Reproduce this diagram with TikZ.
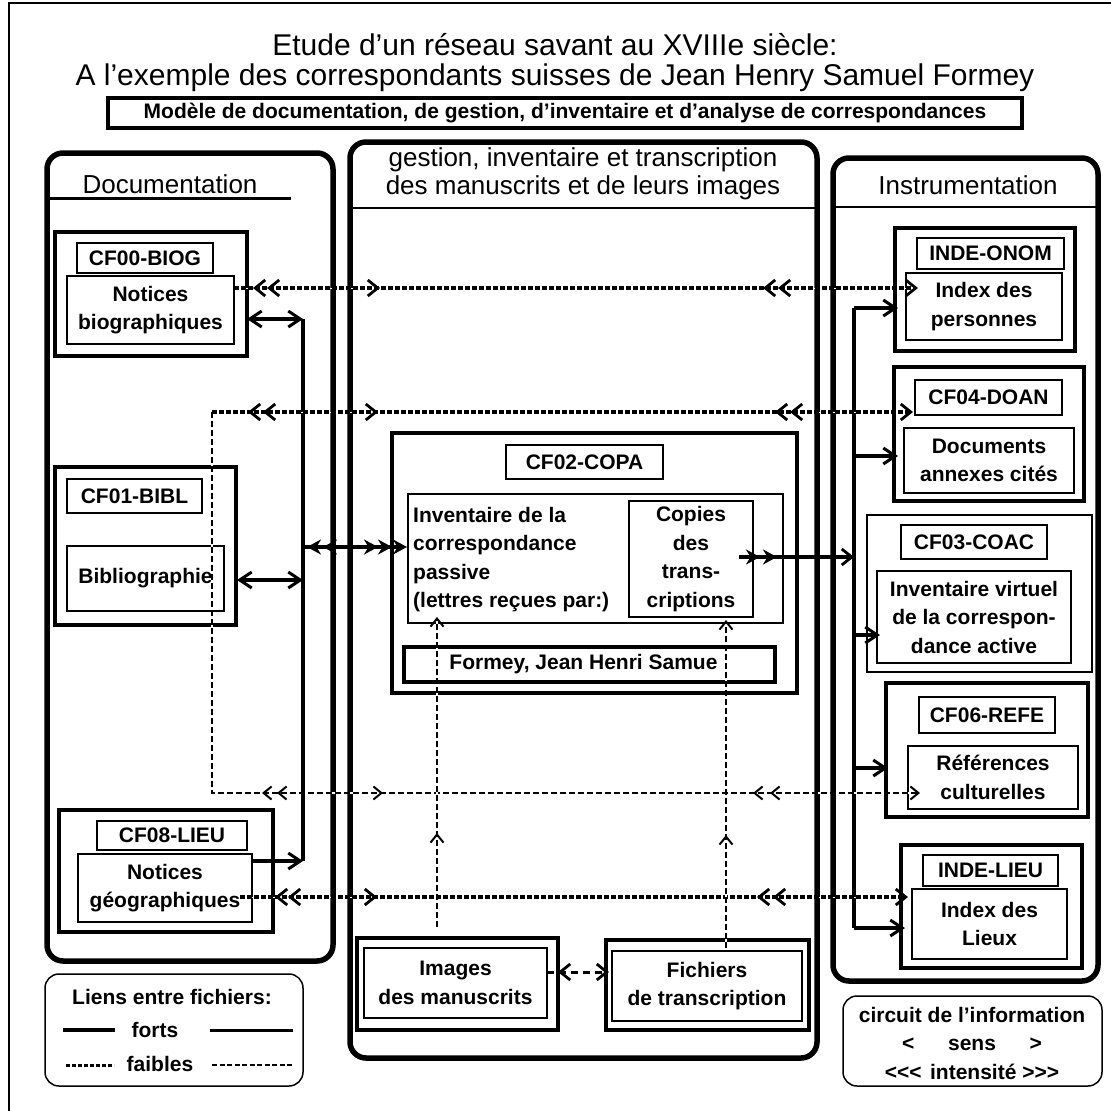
\documentclass[tikz,border=0pt]{standalone}
\usepackage{fontspec}
\setmainfont{Liberation Sans}
\usetikzlibrary{arrows.meta,decorations.markings,calc}
\newcommand\fb{\fontsize{21}{28.5}\selectfont\bfseries}
\newcommand\fh{\fontsize{26}{28}\selectfont}
\newcommand\ft{\fontsize{30}{29.5}\selectfont}
\newcommand\bx[6][]{\node[#1,anchor=north west,inner sep=0pt,outer sep=0pt,minimum width={(#5-#3)*1pt},minimum height={(#6-#4)*1pt},align=center,font=\fb] (#2) at (#3,#4)}
\tikzset{
 panel/.style={draw,line width=5.5pt,rounded corners=16pt},
 obox/.style={draw,line width=3.5pt},
 mbox/.style={draw,line width=2.5pt},
 ibox/.style={draw,line width=1.5pt},
 legendbox/.style={draw,line width=1.5pt,rounded corners=14pt},
 chv/.tip={Straight Barb[length=10pt,width=16pt,line width=2.8pt]},
 chvt/.tip={Straight Barb[length=8pt,width=13pt,line width=2pt]},
 chs/.tip={Straight Barb[length=12pt,width=16pt,line width=3pt]},
 stl/.tip={Stealth[length=14pt,width=15pt]},
 strong/.style={line width=3.5pt},
 bold link/.style={line width=4.5pt},
 weak/.style={line width=3.2pt,dash pattern=on 5pt off 2pt,preaction={draw=white,solid,arrows=-}},
 weakthin/.style={line width=1.5pt,dash pattern=on 6pt off 3pt,preaction={draw=white,solid,arrows=-,line width=2.5pt}},
 marks/.style={postaction={decorate,decoration={markings,#1}}},
}
\begin{document}
\begin{tikzpicture}[x=1pt,y=-1pt]
\useasboundingbox (0,0) rectangle (1111,1111);
\clip (0,0) rectangle (1111,1111);
\draw[line width=1.5pt] (9,3) rectangle (1140,1140);

% titles
\node[font=\ft,align=center] (title) at (555,62.5) {Etude d'un réseau savant au XVIIIe siècle:\\A l'exemple des correspondants suisses de Jean Henry Samuel Formey};
\bx[obox,font=\fontsize{21.5}{26}\selectfont\bfseries]{subt}{108}{98}{1022}{128}{Modèle de documentation, de gestion, d’inventaire et d'analyse de correspondances};

% panels
\bx[panel]{docP}{47}{153}{333}{961}{};
\bx[panel]{gesP}{350}{142}{817}{1058}{};
\bx[panel]{insP}{833}{158}{1098}{981}{};
\node[font=\fh] (docT) at (170,184) {Documentation};
\draw[line width=3pt] (47,198) -- (291,198);
\node[font=\fh,align=center] (gesT) at (583,174) {gestion, inventaire et transcription\\des manuscrits et de leurs images};
\draw[line width=2.5pt] (350,208) -- (817,208);
\node[font=\fh] (insT) at (968,185) {Instrumentation};
\draw[line width=2.5pt] (833,207) -- (1096,207);

% left column
\bx[obox]{biogO}{55}{232}{247}{356}{};
\bx[ibox]{biogL}{77}{243}{213}{273}{CF00-BIOG};
\bx[ibox]{biogBox}{67}{276}{234}{344}{Notices\\biographiques};
\bx[obox]{biblO}{55}{467}{236}{625}{};
\bx[ibox]{biblL}{67}{479}{202}{513}{CF01-BIBL};
\bx[ibox]{biblBox}{67}{546}{224}{611}{Bibliographie};
\bx[obox]{lieuO}{59}{810}{273}{932}{};
\bx[ibox]{lieuL}{97}{821}{247}{850}{CF08-LIEU};
\bx[ibox]{lieuBox}{78}{854}{252}{922}{Notices\\géographiques};

% center
\bx[obox]{copaO}{392}{433}{797}{693}{};
\bx[ibox]{copaL}{506}{445}{663}{479}{CF02-COPA};
\bx[mbox]{invBox}{408}{494}{783}{623}{};
\node[font=\fb,align=left,anchor=north west,inner sep=0pt] (invT) at (413,507) {Inventaire de la\\correspondance\\passive\\(lettres reçues par:)};
\bx[ibox]{copBox}{629}{501}{753}{617}{Copies\\des\\trans-\\criptions};
\bx[obox]{formBox}{404}{647}{775}{682}{\hspace*{-12pt}Formey, Jean Henri Samue};
\bx[obox]{imgO}{357}{938}{558}{1030}{};
\bx[ibox]{imgI}{364}{948}{547}{1018}{Images\\des manuscrits};
\bx[obox]{ficO}{606}{940}{809}{1030}{};
\bx[ibox]{ficI}{612}{951}{802}{1021}{Fichiers\\de transcription};

% right column
\bx[obox]{onomO}{895}{228}{1075}{351}{};
\bx[ibox]{onomL}{917}{238}{1064}{269}{INDE-ONOM};
\bx[ibox]{onomBox}{906}{273}{1062}{340}{Index des\\personnes};
\bx[obox]{doanO}{894}{367}{1084}{501}{};
\bx[ibox]{doanL}{915}{380}{1062}{415}{CF04-DOAN};
\bx[ibox]{doanBox}{904}{428}{1074}{493}{Documents\\annexes cités};
\bx[mbox]{coacO}{867}{515}{1092}{672}{};
\bx[ibox]{coacL}{901}{525}{1047}{559}{CF03-COAC};
\bx[ibox]{coacBox}{877}{571}{1071}{663}{Inventaire virtuel\\de la correspon-\\dance active};
\bx[obox]{refeO}{886}{683}{1088}{817}{};
\bx[ibox]{refeL}{919}{697}{1055}{733}{CF06-REFE};
\bx[ibox]{refeBox}{908}{746}{1078}{809}{Références\\culturelles};
\bx[obox]{lieuIO}{901}{845}{1082}{968}{};
\bx[ibox]{lieuIL}{923}{855}{1058}{886}{INDE-LIEU};
\bx[ibox]{lieuIBox}{912}{889}{1067}{959}{Index des\\Lieux};

% bus coordinates
\coordinate (b1t) at (303,319);
\coordinate (b1c) at (303,547);
\coordinate (b1m) at (303,580);
\coordinate (b1b) at (303,861);
\coordinate (b2t) at (854,308);
\coordinate (b2d) at (854,456);
\coordinate (b2c) at (854,557);
\coordinate (b2a) at (854,635);
\coordinate (b2r) at (854,768);
\coordinate (b2b) at (854,928);
\coordinate (c2) at (212,412);
\coordinate (c3) at (212,793);

% strong links
\draw[strong] (b1t) -- (b1b);
\draw[strong] (b2t) -- (b2b);
\draw[strong,{chs}-{chs}] ($(biogO.north east)+(0,87)$) -- (b1t);
\draw[strong,{chs}-{chs}] ($(biblO.north east)+(1,113)$) -- (b1m);
\draw[strong,-{chs}] ($(lieuBox.north east)+(0,7)$) -- (b1b);
\draw[bold link,-{stl}, marks={mark=at position 4pt with {\arrowreversed{stl}},mark=at position 20pt with {\arrowreversed{stl}},mark=at position 75pt with {\arrow{stl}},mark=at position 89pt with {\arrow{stl}}}] (b1c) -- ($(invBox.north west)+(-1,53)$);
\draw[bold link,-{chv}, marks={mark=at position 21pt with {\arrow{stl}},mark=at position 38pt with {\arrow{stl}}}] ($(copBox.north east)+(-14,56)$) -- (b2c);
\draw[strong,-{chs}] (b2t) -- ($(onomO.north west)+(3,80)$);
\draw[strong,-{chs}] (b2d) -- ($(doanO.north west)+(4,89)$);
\draw[strong,-{chs}] (b2a) -- ($(coacBox.north west)+(3,64)$);
\draw[strong,-{chs}] (b2r) -- ($(refeO.north west)+(2,85)$);
\draw[strong,-{chs}] (b2b) -- ($(lieuIO.north west)+(4,83)$);

% weak links
\draw[weakthin,-{chvt}, marks={mark=at position 431pt with {\arrowreversed{chvt}},mark=at position 446pt with {\arrowreversed{chvt}},mark=at position 552pt with {\arrow{chvt}},mark=at position 922pt with {\arrowreversed{chvt}},mark=at position 939pt with {\arrowreversed{chvt}}}]
  (c2) -- (c3) -- ($(refeBox.north west)+(12,47)$);
\draw[weak,-{chv}, marks={mark=at position 19pt with {\arrowreversed{chv}},mark=at position 33pt with {\arrowreversed{chv}},mark=at position 146pt with {\arrow{chv}},mark=at position 529pt with {\arrowreversed{chv}},mark=at position 544pt with {\arrowreversed{chv}}}]
  ($(biogBox.north east)+(0,12)$) -- ($(onomBox.north west)+(12,15)$);
\draw[weak,-{chv}, marks={mark=at position 36pt with {\arrowreversed{chv}},mark=at position 51pt with {\arrowreversed{chv}},mark=at position 166pt with {\arrow{chv}},mark=at position 563pt with {\arrowreversed{chv}},mark=at position 578pt with {\arrowreversed{chv}}}]
  (c2) -- ($(doanL.south west)+(-2,-3)$);
\draw[weak,-{chv}, marks={mark=at position 35pt with {\arrowreversed{chv}},mark=at position 48pt with {\arrowreversed{chv}},mark=at position 137pt with {\arrow{chv}},mark=at position 517pt with {\arrowreversed{chv}},mark=at position 533pt with {\arrowreversed{chv}}}]
  ($(lieuBox.south east)+(-12,-25)$) -- ($(lieuIBox.north west)+(-4,8)$);
\draw[weakthin,-{chvt}, marks={mark=at position 94pt with {\arrow{chvt}}}]
  ($(imgO.north west)+(80,-11)$) -- ($(invBox.south west)+(29,-6)$);
\draw[weakthin,-{chvt}, marks={mark=at position 113pt with {\arrow{chvt}}}]
  ($(ficI.north west)+(114,-3)$) -- ($(copBox.south west)+(97,3)$);
\draw[line width=3pt,dash pattern=on 7pt off 5pt,-{chv}, marks={mark=at position 11pt with {\arrowreversed{chv}}}]
  ($(imgI.north east)+(0,24)$) -- ($(ficI.north west)+(-3,21)$);

% legends
\bx[legendbox]{liens}{45}{974}{303}{1086}{};
\node[font=\fb] (liensT) at (172,997) {Liens entre fichiers:};
\node[font=\fb] (fortsT) at (155,1030) {forts};
\node[font=\fb] (faiblesT) at (160,1064) {faibles};
\draw[line width=4.5pt] (63,1030) -- (115,1030);
\draw[line width=3pt] (210,1030) -- (293,1030);
\draw[line width=3pt,dash pattern=on 4pt off 2pt] (66,1065) -- (114,1065);
\draw[line width=1.2pt,dash pattern=on 5pt off 2.5pt] (212,1065) -- (292,1065);
\bx[legendbox]{circ}{843}{996}{1102}{1086}{};
\node[font=\fb,align=center] (circT) at (972,1043) {circuit de l’information\\<\hspace{1.6em}sens\hspace{1.6em}>\\<\kern0pt<\kern0pt<\hspace{0.4em}intensité >\kern0pt>\kern0pt>};
\end{tikzpicture}
\end{document}
